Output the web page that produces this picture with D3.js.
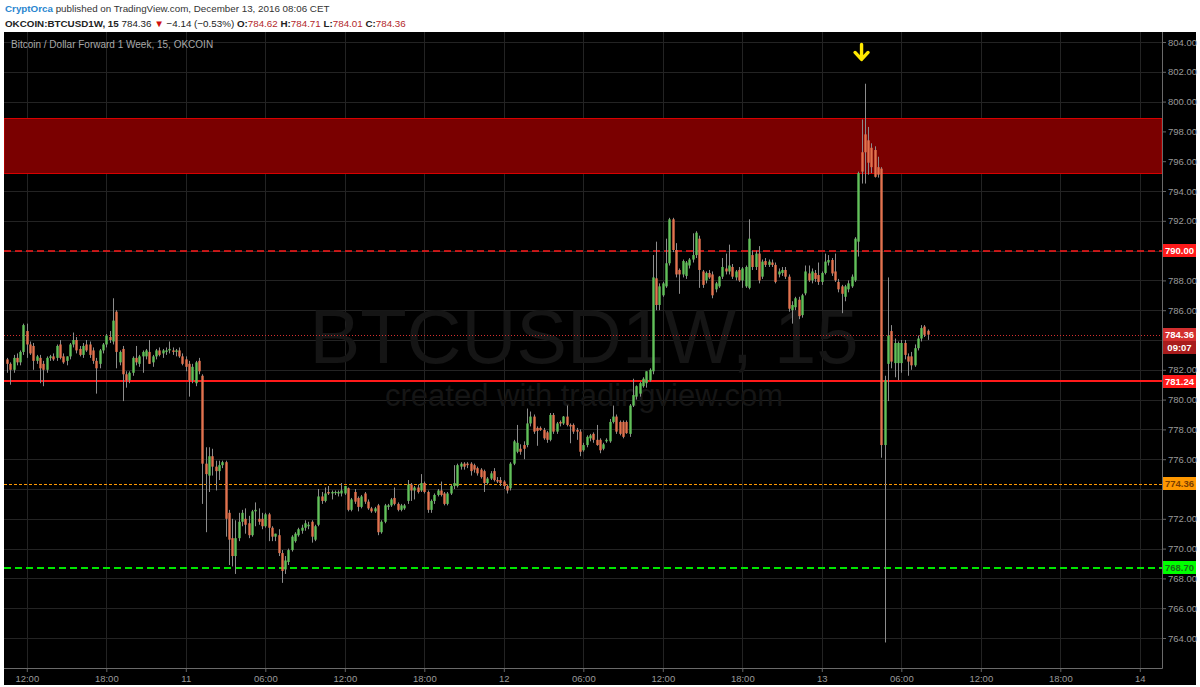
<!DOCTYPE html>
<html><head><meta charset="utf-8">
<script src="https://cdnjs.cloudflare.com/ajax/libs/d3/7.8.5/d3.min.js"></script>
<style>
html,body{margin:0;padding:0;background:#fff;}
svg{display:block;font-family:"Liberation Sans",Arial,sans-serif;}
</style></head><body>
<svg id="c" width="1200" height="687"></svg>
<script>
// ---- DATA: 15-minute candles [open, high, low, close]; bar 0 = Dec 10 12:00 ----
const firstBar = -6;
const dec10 = [
[782.7,782.8,781.8,782.4],[782.4,782.5,781.0,782.0],[782.0,783.0,781.8,782.8],[782.8,783.1,782.3,782.5],
[782.5,783.3,782.3,783.2],[783.2,785.1,783.0,785.0],
[784.6,785.1,782.8,783.7],[783.7,783.9,783.0,783.1],[783.6,783.8,782.0,782.6],[782.6,783.0,782.4,782.9],
[782.8,783.0,781.1,782.1],[782.4,782.6,780.9,782.0],[782.0,782.9,781.8,782.8],[782.8,783.0,782.6,782.9],
[782.9,783.1,782.6,782.7],[782.8,783.7,782.6,783.6],[783.7,784.0,782.7,782.8],[782.9,783.1,782.4,782.5],
[782.6,782.9,782.3,782.9],[782.9,783.8,782.7,783.7],[783.7,784.5,783.5,784.0],[784.0,784.2,783.1,783.3],
[783.4,783.6,782.9,783.0],[783.0,783.8,782.8,783.6],[783.7,784.0,783.2,783.3],[783.7,783.9,782.8,783.0],
[783.3,783.5,782.4,782.6],[782.6,782.8,780.4,782.1],[782.4,783.4,782.1,783.3],[783.3,783.8,783.1,783.7],
[783.7,784.4,783.5,784.3],[784.2,784.6,783.8,784.0],[783.9,786.8,783.7,785.3],[785.9,786.0,782.1,783.2],
[782.5,783.3,782.3,783.2],[783.4,783.6,779.9,781.7],[781.7,781.9,780.8,781.3],[781.3,781.9,781.1,781.8],
[781.8,782.9,781.6,782.8],[782.8,783.6,782.3,782.5],[782.4,783.0,782.2,782.9],[782.9,783.3,781.8,783.2],
[782.9,783.4,782.7,783.3],[783.2,784.0,782.4,782.4],[782.5,783.0,782.2,782.9],[782.9,783.4,782.7,783.3],
[783.3,783.5,782.9,783.0],[783.1,783.4,782.8,783.3],[783.2,783.5,783.0,783.3],[783.3,783.9,783.1,783.4],
[783.3,783.5,783.0,783.2],[783.2,783.4,782.9,783.3],[783.3,783.5,782.8,782.9],[782.9,783.1,782.3,782.4]
];
const dec11 = [
[782.7,782.9,781.9,782.2],[782.4,782.6,780.2,781.3],[781.3,782.4,781.1,782.2],[781.1,782.6,780.9,782.5],
[782.6,782.8,781.7,781.9],[781.6,781.7,773.0,775.7],[775.7,776.8,771.1,775.0],[774.9,776.8,773.8,776.2],
[776.2,776.7,774.9,775.5],[775.5,775.9,773.9,775.2],[775.2,775.9,774.6,775.6],[775.6,775.9,775.4,775.8],
[775.8,775.9,770.8,772.0],[772.4,772.6,768.9,770.6],[770.7,772.0,768.8,769.5],[769.5,771.9,768.3,770.7],
[770.7,772.4,770.5,771.8],[771.8,772.6,771.5,772.4],[772.0,772.7,771.0,771.6],[771.7,772.2,770.7,770.9],
[770.9,772.6,770.8,772.5],[772.5,773.1,771.5,772.6],[772.0,772.7,771.6,771.8],[772.0,772.4,771.3,771.5],
[771.5,772.4,771.4,772.3],[772.3,772.4,770.5,771.4],[771.4,771.5,770.5,770.8],[770.8,771.0,770.5,771.0],
[770.9,771.3,769.5,769.7],[769.7,769.9,767.7,768.5],[768.6,769.5,768.3,769.2],[769.1,770.0,768.9,769.9],
[769.9,770.9,769.8,770.8],[770.5,771.1,770.4,771.0],[770.9,771.4,770.8,771.3],[771.2,771.6,771.0,771.4],
[771.4,771.9,771.2,771.7],[771.5,771.8,771.3,771.6],[771.8,771.9,770.4,770.8],[770.6,771.6,770.5,771.5],
[771.6,774.0,771.5,773.5],[773.5,773.8,773.0,773.2],[773.2,774.1,773.1,773.7],[773.8,774.2,773.6,773.7],
[773.7,773.9,773.3,773.8],[773.8,773.9,773.6,773.8],[773.7,773.9,773.5,773.8],[773.7,774.4,773.5,773.9],
[773.7,774.2,773.6,774.2],[774.05,774.1,772.5,772.6],[772.6,773.4,772.5,773.3],[773.8,774.0,773.0,773.15],
[773.4,773.5,772.5,772.8],[772.8,773.6,772.7,773.5],[773.7,773.8,773.0,773.15],[773.15,773.3,772.6,772.7],
[772.7,772.8,772.4,772.5],[772.5,772.8,772.4,772.7],[772.9,773.0,770.9,771.1],[771.1,771.9,771.0,771.8],
[771.8,773.0,771.7,772.9],[772.8,773.0,772.6,772.9],[772.9,773.4,772.8,773.3],[773.4,774.1,772.9,773.0],
[773.0,773.1,772.5,772.6],[772.6,773.0,772.5,772.9],[772.7,773.0,772.6,772.9],[773.2,774.6,773.0,774.3],
[774.3,774.4,773.2,773.9],[773.9,774.2,773.3,774.1],[774.1,774.3,773.7,773.8],[773.9,775.0,773.8,774.4],
[774.4,774.5,773.7,773.8],[773.8,773.9,772.4,772.6],[772.6,773.3,772.4,773.2],[773.2,773.7,773.0,773.6],
[773.6,774.0,773.5,773.9],[773.9,774.5,773.5,773.6],[773.7,773.8,772.9,773.0],[773.0,773.8,772.9,773.7],
[773.7,774.3,773.6,774.2],[774.2,775.6,774.0,774.4],[774.2,775.7,774.1,775.6],[775.5,775.8,775.3,775.7],
[775.7,775.8,775.3,775.5],[775.7,775.8,775.4,775.6],[775.7,775.8,774.9,775.2],[775.6,775.7,775.1,775.3],
[775.4,775.5,774.9,775.05],[775.3,775.4,774.7,774.8],[775.2,775.3,773.8,774.4],[774.4,774.8,774.3,774.7],
[774.7,775.2,774.6,775.05],[775.2,775.4,774.5,774.6],[774.6,774.8,774.4,774.5],[774.6,774.8,774.2,774.4]
];
const dec12 = [
[774.5,774.6,774.0,774.2],[774.2,774.3,773.7,773.9],[774.05,775.8,773.9,775.7],[775.7,777.3,775.6,777.2],
[776.5,778.3,776.4,777.1],[776.7,777.0,776.3,776.5],[776.95,777.2,776.0,776.7],[776.95,779.4,776.8,778.4],
[778.4,779.2,778.2,778.86],[778.86,779.0,777.7,777.85],[778.1,778.2,776.9,777.9],[778.1,778.2,777.9,777.95],
[777.96,778.1,777.3,777.4],[777.8,777.9,777.1,777.3],[777.3,779.1,777.2,778.97],[778.97,779.1,777.7,777.85],
[777.85,778.5,777.7,778.4],[778.5,778.6,778.2,778.4],[778.4,778.9,778.3,778.86],[778.86,779.6,778.2,778.3],
[778.3,778.4,777.07,778.2],[778.3,778.4,777.7,777.85],[777.96,778.1,777.3,777.85],[777.85,778.0,776.2,776.5],
[776.6,777.1,776.5,776.95],[776.95,777.6,776.8,777.5],[777.4,777.7,777.2,777.6],[777.7,777.8,777.1,777.3],
[777.3,778.3,776.9,776.95],[777.3,777.4,776.4,776.6],[776.7,777.1,776.6,777.0],[777.2,777.4,777.1,777.3],
[777.2,778.7,777.1,778.5],[778.5,779.6,778.4,778.86],[778.86,779.0,777.7,777.85],[778.5,778.6,777.6,777.7],
[778.5,778.6,777.4,777.5],[778.5,778.6,777.7,777.75],[777.7,779.7,777.5,779.6],[779.6,781.4,779.5,780.3],
[780.2,780.95,780.0,780.9],[780.4,781.2,780.2,781.1],[780.9,781.5,780.8,781.4],[781.1,781.9,780.8,781.9],
[781.3,782.1,781.2,782.0],[781.9,789.7,781.7,788.2],[788.14,790.6,786.0,786.35],[786.35,787.8,786.0,787.6],
[787.0,787.9,786.9,787.8],[787.6,790.8,787.5,789.15],[789.15,792.2,789.0,792.1],[792.1,792.2,789.9,790.04],
[790.04,790.5,788.2,788.4],[788.7,788.8,787.1,788.4],[788.4,789.4,788.2,789.3],[788.3,789.3,788.1,789.2],
[789.0,789.5,788.8,789.4],[789.4,791.16,789.2,789.7],[789.7,791.3,789.5,791.2],[790.8,791.0,787.5,788.7],
[788.6,788.7,787.5,787.7],[788.0,788.6,787.8,788.5],[788.5,788.7,788.1,788.2],[788.4,788.6,786.8,787.0],
[787.4,787.9,787.2,787.8],[787.6,788.3,787.5,788.25],[788.25,789.5,788.1,788.9],[788.8,789.8,788.4,788.6],
[788.6,790.4,788.4,789.0],[788.9,789.1,788.1,788.25],[788.2,788.7,788.0,788.6],[788.7,788.9,787.9,788.0],
[788.0,788.9,787.5,788.8],[787.6,789.0,787.5,788.9],[787.5,792.1,787.4,790.8],[789.7,790.0,788.7,788.9],
[788.9,790.0,788.7,789.8],[789.8,790.3,787.8,788.0],[788.25,789.4,788.1,789.26],[789.3,789.5,788.9,789.04],
[789.04,789.4,788.9,789.26],[789.2,789.4,788.9,789.04],[789.04,789.2,787.8,787.9],[788.4,788.8,788.2,788.6],
[788.5,788.9,788.3,788.7],[788.7,788.9,788.1,788.25],[788.25,788.4,785.9,786.1],[786.0,786.6,785.1,786.35],
[786.2,786.9,786.0,786.8],[786.7,786.9,785.4,785.6],[785.67,787.1,785.5,787.0],[787.13,789.0,787.0,788.6],
[788.47,789.0,787.9,788.0],[788.0,788.8,787.8,788.6],[788.5,788.7,787.9,788.1],[788.36,789.2,787.7,787.9]
];
const dec13 = [
[787.9,788.6,787.7,788.5],[788.5,789.8,788.4,789.26],[789.2,789.7,789.0,789.37],[789.37,789.5,788.3,788.47],
[788.6,789.8,787.9,788.0],[787.9,788.1,787.2,787.4],[787.6,787.7,785.8,787.1],[786.9,787.7,786.6,787.6],
[787.4,788.0,787.2,787.8],[787.6,788.4,787.5,788.25],[788.0,790.9,787.9,790.8],[790.6,795.3,789.6,795.2],
[796.6,798.8,794.5,795.3],[797.8,801.2,794.5,796.6],[797.4,798.3,795.1,795.9],[796.9,797.2,795.2,795.6],
[796.75,797.0,794.9,794.95],[795.6,796.3,794.9,795.1],[795.5,795.6,776.1,776.95],[776.95,781.6,763.7,781.3],
[782.4,788.2,779.9,784.3],[784.6,785.0,782.1,782.55],[782.45,784.1,781.5,783.8],[782.45,783.9,781.3,783.8],
[782.45,784.0,781.8,783.8],[783.8,784.0,782.7,783.0],[782.9,783.1,781.6,782.55],[782.9,783.2,782.0,782.3],
[782.3,783.7,782.2,783.45],[783.45,784.3,783.3,784.1],[784.1,785.0,783.9,784.8],[784.9,785.0,784.2,784.35],
[784.62,784.71,784.01,784.36]
];
const timeTickBars = [0,24,48,72,96,120,144,168,192,216,240,264,288,312,336];
const timeTickLabels = ["12:00","18:00","11","06:00","12:00","18:00","12","06:00","12:00","18:00","13","06:00","12:00","18:00","14"];
const priceTicks = [764,766,768,770,772,774,776,778,780,782,784,786,788,790,792,794,796,798,800,802,804];
const resistanceZone = [795.2, 798.9];
const levelLines = [
  {price:790.00, color:"#ff1a1a", width:1.6, dash:"7,4", label:"790.00", bg:"#ff1a1a", fg:"#ffffff"},
  {price:784.36, color:"#d32f2f", width:1, dash:"1,2", label:"784.36", bg:"#d32f2f", fg:"#ffffff"},
  {price:781.24, color:"#ff1a1a", width:2, dash:null, label:"781.24", bg:"#ff1a1a", fg:"#ffffff"},
  {price:774.36, color:"#ff9800", width:1, dash:"3,2", label:"774.36", bg:"#ff9800", fg:"#7a3e00"},
  {price:768.70, color:"#00e600", width:1.8, dash:"7,4", label:"768.70", bg:"#00ff00", fg:"#1a6b1a"}
];
const countdown = "09:07";
const arrowBar = 252;

// ---- LAYOUT ----
const frame = {x0:4, y0:32, x1:1196, y1:685};
const plot = {x0:4, y0:32, x1:1162, y1:668};
const svg = d3.select("#c");

const candles = dec10.concat(dec11, dec12, dec13).map((d,i)=>({i:firstBar+i,o:d[0],h:d[1],l:d[2],c:d[3]}));

const x = d3.scaleLinear().domain([0,336]).range([26.8,1139.8]);
const y = d3.scaleLinear().domain([764,804]).range([638,42]);
const snap = v => Math.round(v)+0.5;

// header
const hdr = svg.append("g");
const t1 = hdr.append("text").attr("x",5).attr("y",12).attr("font-size",9.8);
t1.append("tspan").attr("fill","#2a86cf").attr("font-weight","bold").text("CryptOrca");
t1.append("tspan").attr("fill","#333").text(" published on TradingView.com, December 13, 2016 08:06 CET");
const t2 = hdr.append("text").attr("x",5).attr("y",27).attr("font-size",9.8).attr("fill","#222");
t2.append("tspan").attr("font-weight","bold").text("OKCOIN:BTCUSD1W, 15");
t2.append("tspan").text(" 784.36 ");
t2.append("tspan").attr("fill","#d01010").text("▼");
t2.append("tspan").text(" −4.14 (−0.53%) ");
const ohlc = [["O:","784.62"],["H:","784.71"],["L:","784.01"],["C:","784.36"]];
ohlc.forEach((p,k)=>{
  t2.append("tspan").attr("font-weight","bold").text((k?" ":"")+p[0]);
  t2.append("tspan").attr("fill","#b3272b").text(p[1]);
});

// black frame
svg.append("rect").attr("x",frame.x0).attr("y",frame.y0).attr("width",frame.x1-frame.x0).attr("height",frame.y1-frame.y0).attr("fill","#000");

const defs = svg.append("defs");
defs.append("clipPath").attr("id","clip").append("rect")
  .attr("x",plot.x0).attr("y",plot.y0).attr("width",plot.x1-plot.x0).attr("height",plot.y1-plot.y0);

const pg = svg.append("g").attr("clip-path","url(#clip)");

// grid
pg.selectAll("line.hg").data(priceTicks).join("line")
  .attr("x1",plot.x0).attr("x2",plot.x1).attr("y1",d=>snap(y(d))).attr("y2",d=>snap(y(d)))
  .attr("stroke","#232323").attr("stroke-width",1);
pg.selectAll("line.vg").data(timeTickBars).join("line")
  .attr("y1",plot.y0).attr("y2",plot.y1).attr("x1",d=>snap(x(d))).attr("x2",d=>snap(x(d)))
  .attr("stroke","#232323").attr("stroke-width",1);

// watermark
pg.append("text").attr("x",584).attr("y",363).attr("text-anchor","middle").attr("font-size",76)
  .attr("fill","#151515").text("BTCUSD1W, 15");
pg.append("text").attr("x",584).attr("y",406).attr("text-anchor","middle").attr("font-size",31)
  .attr("fill","#151515").text("created with tradingview.com");

// title
svg.append("text").attr("x",11).attr("y",48).attr("font-size",10).attr("fill","#a8a8a8")
  .text("Bitcoin / Dollar Forward 1 Week, 15, OKCOIN");

// zone
pg.append("rect").attr("x",plot.x0).attr("width",plot.x1-plot.x0)
  .attr("y",snap(y(resistanceZone[1]))).attr("height",Math.round(y(resistanceZone[0])-y(resistanceZone[1])))
  .attr("fill","#7a0000").attr("stroke","#d80000").attr("stroke-width",1);

// level lines
pg.selectAll("line.lvl").data(levelLines).join("line")
  .attr("x1",plot.x0).attr("x2",plot.x1)
  .attr("y1",d=>d.width<1.5?snap(y(d.price)):Math.round(y(d.price)))
  .attr("y2",d=>d.width<1.5?snap(y(d.price)):Math.round(y(d.price)))
  .attr("stroke",d=>d.color).attr("stroke-width",d=>d.width).attr("stroke-dasharray",d=>d.dash);

// candles
const up = "#62c05a", dn = "#e2734f", wick = "#8c8c8c";
const cg = pg.append("g");
cg.selectAll("line.w").data(candles).join("line")
  .attr("x1",d=>Math.round(x(d.i))+0.5).attr("x2",d=>Math.round(x(d.i))+0.5)
  .attr("y1",d=>y(d.h)).attr("y2",d=>y(d.l)).attr("stroke",wick).attr("stroke-width",1);
cg.selectAll("rect.b").data(candles).join("rect")
  .attr("x",d=>Math.round(x(d.i))-0.7).attr("width",2.4)
  .attr("y",d=>y(Math.max(d.o,d.c))).attr("height",d=>Math.max(1,Math.abs(y(d.o)-y(d.c))))
  .attr("fill",d=>d.c>=d.o?up:dn);

// arrow
const ax = x(arrowBar), ay = y(803.3);
svg.append("path")
  .attr("d",`M${ax},${ay-8} L${ax},${ay+6} M${ax-6.5},${ay} L${ax},${ay+7} L${ax+6.5},${ay}`)
  .attr("stroke","#ffe800").attr("stroke-width",3.4).attr("fill","none")
  .attr("stroke-linecap","round").attr("stroke-linejoin","round");

// axes: hide tick labels sitting under a price tag
const tagYs = levelLines.map(d=>y(d.price)).concat([y(784.36)+13]);
const visibleTicks = priceTicks.filter(p=>tagYs.every(t=>Math.abs(y(p)-t)>=8));
const yAxis = svg.append("g").attr("transform",`translate(${plot.x1},0)`)
  .call(d3.axisRight(y).tickValues(visibleTicks).tickFormat(d3.format(".2f")).tickSize(4).tickPadding(2));
const xAxis = svg.append("g").attr("transform",`translate(0,${plot.y1})`)
  .call(d3.axisBottom(x).tickValues(timeTickBars).tickFormat((d,k)=>timeTickLabels[k]).tickSize(4).tickPadding(3));
[yAxis,xAxis].forEach(a=>{
  a.select(".domain").remove();
  a.selectAll(".tick line").attr("stroke","#666");
  a.selectAll(".tick text").attr("fill","#9a9a9a").attr("font-size",9.5).attr("font-family","Liberation Sans, Arial, sans-serif");
});
svg.append("line").attr("x1",plot.x1+0.5).attr("x2",plot.x1+0.5).attr("y1",plot.y0).attr("y2",plot.y1+0.5).attr("stroke","#6a6a6a");
svg.append("line").attr("x1",plot.x0).attr("x2",plot.x1+0.5).attr("y1",plot.y1+0.5).attr("y2",plot.y1+0.5).attr("stroke","#6a6a6a");

// axis price labels
const lg = svg.append("g");
function tag(yc, txt, bg, fg){
  lg.append("rect").attr("x",plot.x1+1).attr("y",Math.round(yc-6.5)).attr("width",33).attr("height",13).attr("fill",bg);
  lg.append("text").attr("x",plot.x1+17.5).attr("y",Math.round(yc-6.5)+10).attr("text-anchor","middle")
    .attr("font-size",9.5).attr("font-weight","bold").attr("fill",fg).text(txt);
}
levelLines.forEach(d=>tag(y(d.price), d.label, d.bg, d.fg));
tag(y(784.36)+13, countdown, "#a81c1c", "#ffffff");
</script>
</body></html>
